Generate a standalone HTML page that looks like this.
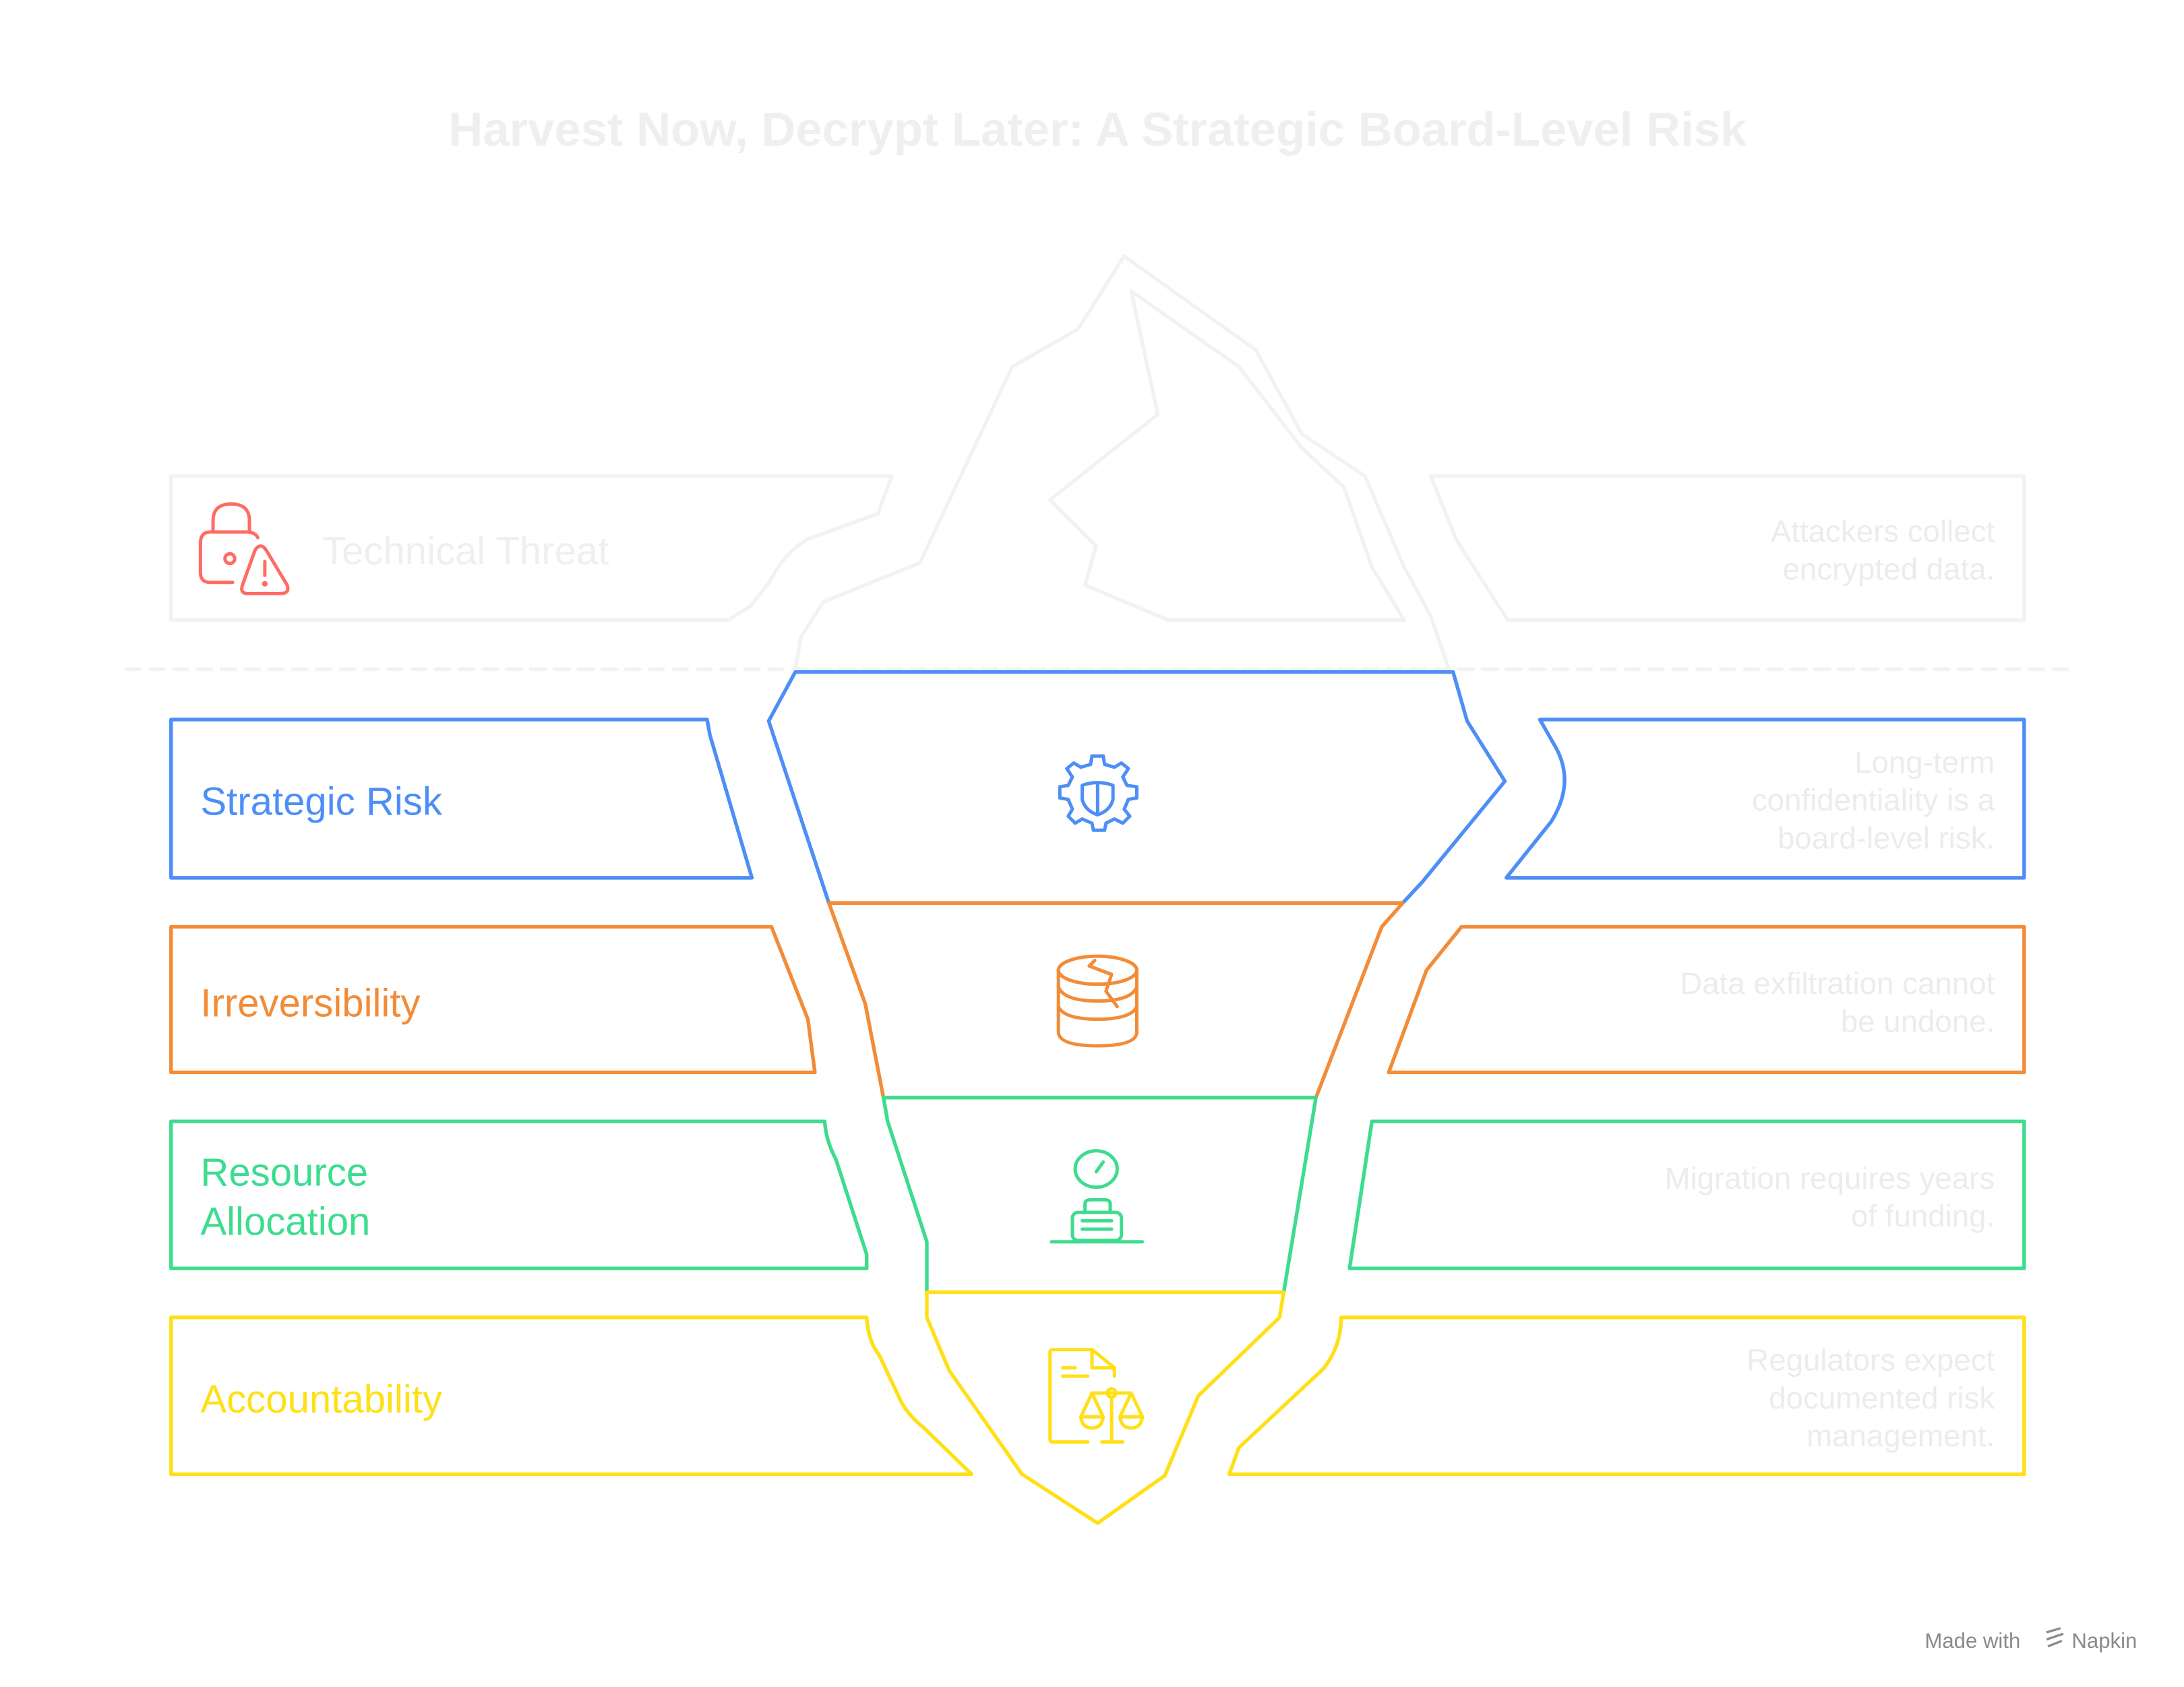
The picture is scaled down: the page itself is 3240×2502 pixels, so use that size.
<!DOCTYPE html>
<html><head><meta charset="utf-8"><style>
html,body{margin:0;padding:0;background:#fff;}
svg{display:block;}
text{font-family:"Liberation Sans",sans-serif;}
</style></head><body>
<svg width="3240" height="2502" viewBox="0 0 1560 1205" xmlns="http://www.w3.org/2000/svg">
<rect width="1560" height="1205" fill="#fff"/>
<text x="784" y="104" text-anchor="middle" font-size="34" font-weight="bold" fill="#efefef">Harvest Now, Decrypt Later: A Strategic Board-Level Risk</text>

<g fill="none" stroke-width="2.6" stroke-linejoin="round" stroke-linecap="round">
<g stroke="#f2f2f2">
<path d="M568,478 L572,455 L588,430 L657,402 L723,262 L770,235 L803,183 L897,250 L930,310 L975,340 L1003,405 L1022,440 L1035,478"/>
<path d="M808,208 L827,296 L750,357 L783,390 L775,418 L835,443 L1003,443 L980,405 L960,348 L930,320 L885,262 Z"/>
<path d="M122,340 L637,340 L627,367 L577,385 Q560,395 550,415 L536,433 L520,443 L122,443 Z"/>
<path d="M1022,340 L1446,340 L1446,443 L1077,443 L1040,385 Z"/>
<line x1="90" y1="478" x2="1482" y2="478" stroke-dasharray="10,7"/>
</g>
<g stroke="#4d8ef7">
<path d="M592,645 L549,515 L568,480 L1038,480 L1048,515 L1075,558 L1016,630 L1002,645"/>
<path d="M122,514 L505,514 L507,525 L537,627 L122,627 Z"/>
<path d="M1100,514 L1446,514 L1446,627 L1076,627 L1108,587 Q1125,560 1112,535 Z"/>
</g>
<g stroke="#f28c38">
<path d="M592,645 L1002,645 L987,662 L940,784"/>
<path d="M592,645 L618,717 L631,784"/>
<path d="M122,662 L551,662 L577,728 L582,766 L122,766 Z"/>
<path d="M1044,662 L1446,662 L1446,766 L992,766 L1019,693 Z"/>
</g>
<g stroke="#3ddc8e">
<path d="M631,784 L940,784 L917,923"/>
<path d="M631,784 L634,801 L662,887 L662,923"/>
<path d="M122,801 L589,801 Q590,815 597,828 L619,896 L619,906 L122,906 Z"/>
<path d="M980,801 L1446,801 L1446,906 L964,906 Z"/>
</g>
<g stroke="#ffe016">
<path d="M662,923 L917,923 L914,941 L856,997 L832,1054 L784,1088 L730,1053 L678,979 L662,941 Z"/>
<path d="M122,941 L619,941 Q620,958 628,968 L644,1002 Q650,1012 660,1020 L694,1053 L122,1053 Z"/>
<path d="M958,941 L1446,941 L1446,1053 L878,1053 L885,1034 L945,978 Q958,962 958,941 Z"/>
</g>

<g stroke="#ff6b63" stroke-width="2.4">
<path d="M152,380 L152,372 Q152,360 165,360 Q178,360 178,372 L178,380"/>
<path d="M184,384 Q182,380 176,380 L150,380 Q143,380 143,388 L143,409 Q143,416 150,416 L166,416"/>
<circle cx="164" cy="399" r="3.5"/>
<path d="M182,393 Q186,387 190,393 L205,418 Q207,424 200,424 L177,424 Q171,424 173,418 Z"/>
<line x1="189" y1="401" x2="189" y2="411"/>
<circle cx="189" cy="417" r="0.8" fill="#ff6b63"/>
</g>
<g stroke="#4d8ef7" stroke-width="2.4">
<path d="M780,540 L788,540 L789,546 L796,548 L801,545 L806,549 L802,555 L805,561 L812,562 L812,570 L806,571 L803,578 L807,583 L802,588 L796,585 L790,588 L789,593 L781,593 L780,588 L773,585 L768,588 L763,583 L766,578 L763,571 L757,570 L757,562 L763,561 L766,555 L762,549 L767,545 L772,548 L779,546 Z"/>
<path d="M773,561 Q784,557 795,561 L795,571 Q793,579 784,582 Q775,579 773,571 Z"/>
<line x1="784" y1="559" x2="784" y2="582"/>
</g>
<g stroke="#f28c38" stroke-width="2.4">
<ellipse cx="784" cy="693" rx="28" ry="10"/>
<path d="M756,693 L756,737 Q756,747 784,747 Q812,747 812,737 L812,693"/>
<path d="M756,705 Q760,715 784,715 Q808,715 812,705"/>
<path d="M756,719 Q760,728 784,728 Q808,728 812,719"/>
<path d="M782,686 L778,690 L794,696 L790,708 L798,719"/>
</g>
<g stroke="#3ddc8e" stroke-width="2.4">
<ellipse cx="783" cy="835" rx="15" ry="13"/>
<line x1="783" y1="837" x2="788" y2="830"/>
<path d="M775,866 L775,860 Q775,857 779,857 L789,857 Q793,857 793,860 L793,866"/>
<rect x="766" y="866" width="35" height="20" rx="4"/>
<line x1="773" y1="872" x2="794" y2="872"/>
<line x1="773" y1="878" x2="794" y2="878"/>
<line x1="751" y1="887" x2="816" y2="887"/>
</g>
<g stroke="#ffe016" stroke-width="2.4">
<path d="M777,1030 L752,1030 Q750,1030 750,1028 L750,966 Q750,964 752,964 L780,964 L796,977 L796,983"/>
<path d="M780,964 L780,977 L796,977"/>
<line x1="759" y1="977" x2="768" y2="977"/>
<line x1="759" y1="983" x2="777" y2="983"/>
<line x1="780" y1="995" x2="808" y2="995"/>
<circle cx="794" cy="995" r="3"/>
<line x1="794" y1="998" x2="794" y2="1029"/>
<line x1="787" y1="1030" x2="802" y2="1030"/>
<path d="M780,995 L772,1012 L788,1012 Z M772,1012 Q773,1020 780,1020 Q787,1020 788,1012"/>
<path d="M808,995 L800,1012 L816,1012 Z M800,1012 Q801,1020 808,1020 Q815,1020 816,1012"/>
</g>
</g>

<text x="230" y="403" font-size="28" fill="#efefef">Technical Threat</text>
<text x="143" y="582" font-size="28" fill="#4d8ef7">Strategic Risk</text>
<text x="143" y="726" font-size="28" fill="#f28c38">Irreversibility</text>
<text x="143" y="847" font-size="28" fill="#3ddc8e">Resource</text>
<text x="143" y="882" font-size="28" fill="#3ddc8e">Allocation</text>
<text x="143" y="1009" font-size="28" fill="#ffe016">Accountability</text>

<g font-size="22" fill="#ececec" text-anchor="end">
<text x="1425" y="387">Attackers collect</text>
<text x="1425" y="414">encrypted data.</text>
<text x="1425" y="552">Long-term</text>
<text x="1425" y="579">confidentiality is a</text>
<text x="1425" y="606">board-level risk.</text>
<text x="1425" y="710">Data exfiltration cannot</text>
<text x="1425" y="737">be undone.</text>
<text x="1425" y="849">Migration requires years</text>
<text x="1425" y="876">of funding.</text>
<text x="1425" y="979">Regulators expect</text>
<text x="1425" y="1006">documented risk</text>
<text x="1425" y="1033">management.</text>
</g>

<text x="1375" y="1177" font-size="15" fill="#8a8a8a">Made with</text>
<path d="M1462,1166 l10,-3 M1462,1171 l12,-4 M1463,1176 l10,-4" stroke="#8a8a8a" stroke-width="1.6" fill="none"/>
<text x="1480" y="1177" font-size="15" fill="#8a8a8a">Napkin</text>
</svg>
</body></html>
